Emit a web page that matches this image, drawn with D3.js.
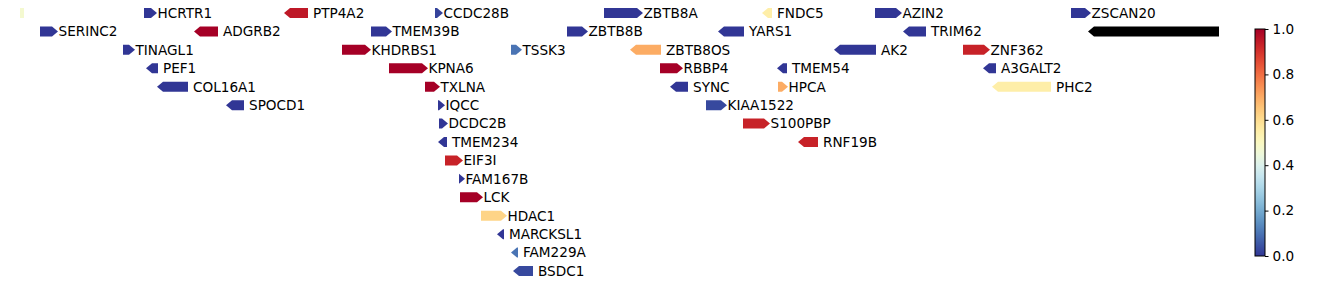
<!DOCTYPE html>
<html>
<head>
<meta charset="utf-8">
<script src="https://cdn.jsdelivr.net/npm/d3@7"></script>
<style>
  body { margin: 0; background: #fff; }
  text { font-family: "DejaVu Sans", sans-serif; fill: #000; }
</style>
</head>
<body>
<script>
const w = 1338;
const h = 285;

// gene track data (positions in track units, row = stacking level)
const genes   = ["", "HCRTR1", "PTP4A2", "CCDC28B", "ZBTB8A", "FNDC5", "AZIN2", "ZSCAN20",
                 "SERINC2", "ADGRB2", "TMEM39B", "ZBTB8B", "YARS1", "TRIM62", "",
                 "TINAGL1", "KHDRBS1", "TSSK3", "ZBTB8OS", "AK2", "ZNF362",
                 "PEF1", "KPNA6", "RBBP4", "TMEM54", "A3GALT2",
                 "COL16A1", "TXLNA", "SYNC", "HPCA", "PHC2",
                 "SPOCD1", "IQCC", "KIAA1522",
                 "DCDC2B", "S100PBP",
                 "TMEM234", "RNF19B",
                 "EIF3I", "FAM167B", "LCK", "HDAC1", "MARCKSL1", "FAM229A", "BSDC1"];
const starts  = [0, 124, 264, 415, 584, 742, 855, 1051,
                 20, 174, 351, 547, 698, 883, 1068,
                 103, 322, 491, 610, 814, 943,
                 126, 369, 640, 757, 963,
                 137, 405, 650, 758, 972,
                 206, 418, 686,
                 419, 723,
                 418, 778,
                 425, 439, 440, 461, 477, 491, 493];
const ends    = [4, 137, 288, 423, 623, 752, 882, 1071,
                 38, 198, 372, 568, 724, 906, 1199,
                 115, 351, 502, 641, 856, 970,
                 138, 408, 663, 767, 976,
                 168, 420, 668, 768, 1031,
                 224, 425, 707,
                 428, 750,
                 427, 798,
                 443, 445, 463, 487, 484, 498, 513];
const strands = [".", "+", "-", "+", "+", "-", "+", "+",
                 "+", "-", "+", "+", "-", "-", "-",
                 "+", "+", "+", "-", "-", "+",
                 "-", "+", "+", "-", "-",
                 "-", "+", "-", "+", "-",
                 "-", "+", "+",
                 "+", "+",
                 "-", "-",
                 "+", "+", "+", "+", "-", "-", "-"];
const rows    = [0, 0, 0, 0, 0, 0, 0, 0,
                 1, 1, 1, 1, 1, 1, 1,
                 2, 2, 2, 2, 2, 2,
                 3, 3, 3, 3, 3,
                 4, 4, 4, 4, 4,
                 5, 5, 5,
                 6, 6,
                 7, 7,
                 8, 9, 10, 11, 12, 13, 14];
const values  = [0.47, 0.0, 0.95, 0.02, 0.0, 0.55, 0.0, 0.0,
                 0.0, 1.0, 0.0, 0.0, 0.0, 0.0, NaN,
                 0.0, 1.0, 0.1, 0.7, 0.0, 0.93,
                 0.0, 1.0, 1.0, 0.0, 0.0,
                 0.0, 1.0, 0.0, 0.7, 0.55,
                 0.0, 0.0, 0.03,
                 0.0, 0.93,
                 0.0, 0.93,
                 0.93, 0.0, 1.0, 0.62, 0.0, 0.1, 0.03];
const cbTicks = [0.0, 0.2, 0.4, 0.6, 0.8, 1.0];

const data = genes.map((g, i) => ({
  name: g, start: starts[i], end: ends[i], strand: strands[i], row: rows[i], value: values[i]
}));

const xScale = d3.scaleLinear().domain([0, 1200]).range([20, 1220]);
const yScale = d3.scaleLinear().domain([0, 14]).range([13, 271]);
const color = d3.scaleSequential(t => d3.interpolateRdYlBu(1 - t)).domain([0, 1]);

const svg = d3.select("body").append("svg")
  .attr("width", w)
  .attr("height", h);

const barH = 10;

function arrow(d) {
  const x0 = xScale(d.start), x1 = xScale(d.end);
  const yc = yScale(d.row), t = yc - barH / 2, b = yc + barH / 2;
  const head = Math.min(6, x1 - x0);
  if (d.strand === "+") {
    return `M${x0},${t}L${x1 - head},${t}L${x1},${yc}L${x1 - head},${b}L${x0},${b}Z`;
  } else if (d.strand === "-") {
    return `M${x1},${t}L${x0 + head},${t}L${x0},${yc}L${x0 + head},${b}L${x1},${b}Z`;
  }
  return `M${x0},${t}L${x1},${t}L${x1},${b}L${x0},${b}Z`;
}

const track = svg.append("g").attr("class", "track");

track.selectAll("path.gene")
  .data(data)
  .join("path")
  .attr("class", "gene")
  .attr("d", arrow)
  .attr("fill", d => isNaN(d.value) ? "#000" : color(d.value));

track.selectAll("text.label")
  .data(data.filter(d => d.name))
  .join("text")
  .attr("class", "label")
  .attr("x", d => xScale(d.end) + (d.strand === "+" ? 0.5 : 5))
  .attr("y", d => yScale(d.row))
  .attr("dy", "0.36em")
  .attr("font-size", "13.6px")
  .text(d => d.name);

// colorbar
const cbX = 1255, cbW = 10;
const cbScale = d3.scaleLinear().domain([0, 1]).range([256, 29]);

const grad = svg.append("defs").append("linearGradient")
  .attr("id", "cbgrad")
  .attr("x1", "0").attr("y1", "1").attr("x2", "0").attr("y2", "0");
d3.range(0, 1.0001, 0.05).forEach(t => {
  grad.append("stop").attr("offset", t).attr("stop-color", color(t));
});

svg.append("rect")
  .attr("x", cbX)
  .attr("y", cbScale(1))
  .attr("width", cbW)
  .attr("height", cbScale(0) - cbScale(1))
  .attr("fill", "url(#cbgrad)")
  .attr("stroke", "#000")
  .attr("stroke-width", 1);

const cbAxis = d3.axisRight(cbScale)
  .tickValues(cbTicks)
  .tickFormat(d3.format(".1f"))
  .tickSize(3.5)
  .tickPadding(4);

svg.append("g")
  .attr("transform", "translate(" + (cbX + cbW) + ",0)")
  .call(cbAxis)
  .call(g => g.select(".domain").remove())
  .call(g => g.selectAll("text").attr("font-size", "13.6px").attr("font-family", "DejaVu Sans").attr("fill", "#000"))
  .call(g => g.selectAll("line").attr("stroke", "#000"));
</script>
</body>
</html>
